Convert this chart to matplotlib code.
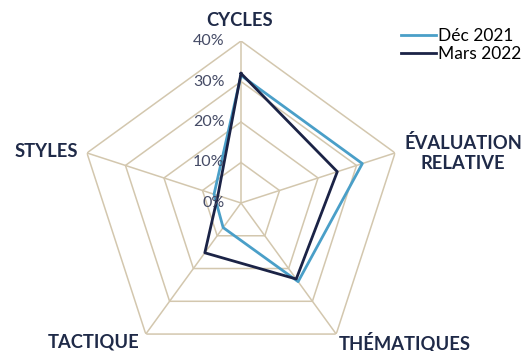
import numpy as np
import matplotlib
matplotlib.use('Agg')
import matplotlib.pyplot as plt

# data
categories = ['CYCLES', 'ÉVALUATION\nRELATIVE', 'THÉMATIQUES', 'TACTIQUE', 'STYLES']
dec_2021 = [31.5, 31.5, 24.0, 7.5, 7.0]
mars_2022 = [32.0, 25.0, 23.2, 15.2, 6.0]
ticks = [0, 10, 20, 30, 40]
series_names = ['Déc 2021', 'Mars 2022']

light = '#4a9fc8'
dark = '#1b2346'
grid_col = '#d3c7ae'
label_col = '#1f2a48'
tick_col = '#454b66'

plt.rcParams['font.family'] = ['Lato', 'DejaVu Sans']

W, H = 527, 351
fig = plt.figure(figsize=(W / 100, H / 100), dpi=100)

# polar axes placed so the centre sits at (241, 203) px, radius 162 px
cx, cy, R = 241, 203, 162
ax = fig.add_axes([(cx - R) / W, (H - cy - R) / H, 2 * R / W, 2 * R / H],
                  projection='polar')
ax.set_theta_offset(np.pi / 2)
ax.set_theta_direction(-1)
ax.set_ylim(0, 40)
ax.grid(False)
ax.set_xticks([])
ax.set_yticks([])
ax.spines['polar'].set_visible(False)
ax.patch.set_visible(False)

angles = np.linspace(0, 2 * np.pi, len(categories), endpoint=False)
closed = np.append(angles, angles[0])

# pentagon grid
for t in ticks[1:]:
    ax.plot(closed, [t] * len(closed), color=grid_col, lw=1.1, zorder=1)
for a in angles:
    ax.plot([a, a], [0, ticks[-1]], color=grid_col, lw=1.1, zorder=1)

for vals, col, name in [(dec_2021, light, series_names[0]),
                        (mars_2022, dark, series_names[1])]:
    ax.plot(closed, vals + vals[:1], color=col, lw=2, label=name, zorder=3)

for t in ticks:
    ax.annotate(f'{t}%', xy=(0, t), xytext=(-12, 0), textcoords='offset points',
                ha='right', va='center', fontsize=11.5, color=tick_col, zorder=4)

# category labels
label_pos = [(240, 20), (463, 153), (405, 342), (94, 342), (46, 152)]
for name, (px, py) in zip(categories, label_pos):
    fig.text(px / W, 1 - py / H, name, ha='center', va='center',
             fontsize=13.2, fontweight='bold', color=label_col, linespacing=1.25)

fig.legend(loc='upper left', bbox_to_anchor=(401 / W, 1 - 28 / H),
           frameon=False, fontsize=12.5, handlelength=2.0, handletextpad=0.15,
           labelspacing=0.12, borderaxespad=0, borderpad=0)

fig.savefig('out.png', dpi=100)
